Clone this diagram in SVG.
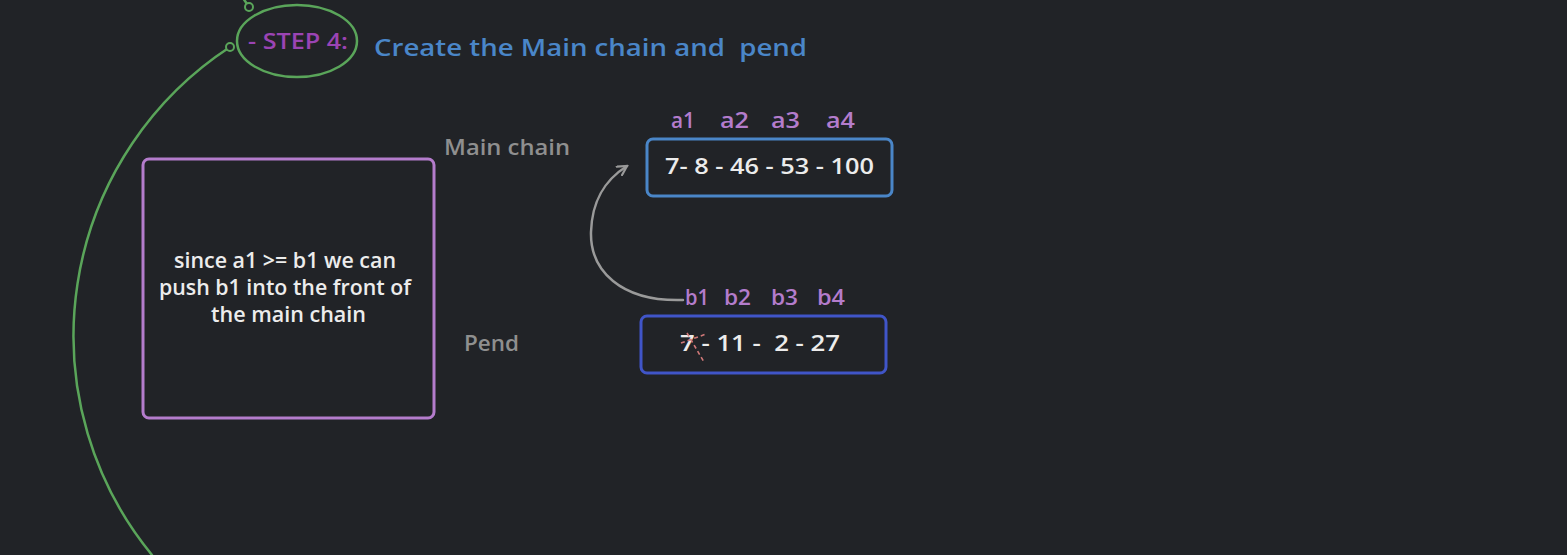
<svg xmlns="http://www.w3.org/2000/svg" width="1567" height="555" viewBox="0 0 1567 555">
<defs>
<style>
text{font-family:"Open Sans","Noto Sans",sans-serif;font-weight:600;white-space:pre}
.white{fill:#ececec;font-size:21px}
.idx{fill:#b47ccc;font-size:22px}
.lbl{fill:#8f8f8f;font-size:22px}
</style>
<marker id="ah" viewBox="0 0 12 12" refX="10" refY="6" markerWidth="12" markerHeight="12" markerUnits="userSpaceOnUse" orient="auto">
<path d="M1 1 L10 6 L1 11" fill="none" stroke="#9a9a9a" stroke-width="2.2" stroke-linecap="round"/>
</marker>
</defs>
<rect width="1567" height="555" fill="#212327"/>
<g id="connectors" fill="none" stroke-linecap="round">
<path d="M230 47 A345 345 0 0 0 152 555" stroke="#5aa55a" stroke-width="2.5"/>
<path d="M249 7 L243 -2" stroke="#5aa55a" stroke-width="2.5"/>
<circle cx="249" cy="7" r="4" stroke="#5aa55a" stroke-width="2" fill="#212327"/>
<circle cx="230" cy="47" r="4" stroke="#5aa55a" stroke-width="2" fill="#212327"/>
<path d="M683 300 C620 302 590 270 591 232 C592 200 605 180 627 166" stroke="#9a9a9a" stroke-width="2.5" marker-end="url(#ah)"/>
</g>
<g id="step">
<ellipse cx="297" cy="41" rx="60" ry="36" fill="none" stroke="#5aa55a" stroke-width="2.5"/>
<text x="248" y="49" fill="#9b44b4" font-size="21" font-weight="500" textLength="100" lengthAdjust="spacingAndGlyphs">- STEP 4:</text>
</g>
<g id="title">
<text x="374" y="56" fill="#4a86c8" font-size="24" textLength="433" lengthAdjust="spacingAndGlyphs" xml:space="preserve">Create the Main chain and  pend</text>
</g>
<g id="main-label"><text class="lbl" x="444" y="155" textLength="126" lengthAdjust="spacingAndGlyphs">Main chain</text></g>
<g id="pend-label"><text class="lbl" x="464" y="351" textLength="55" lengthAdjust="spacingAndGlyphs">Pend</text></g>
<g id="a-labels">
<text class="idx" x="671" y="128" textLength="24" lengthAdjust="spacingAndGlyphs">a1</text>
<text class="idx" x="720" y="128" textLength="29" lengthAdjust="spacingAndGlyphs">a2</text>
<text class="idx" x="771" y="128" textLength="29" lengthAdjust="spacingAndGlyphs">a3</text>
<text class="idx" x="826" y="128" textLength="29" lengthAdjust="spacingAndGlyphs">a4</text>
</g>
<g id="main-chain">
<rect x="647" y="139" width="245" height="57" rx="6" fill="none" stroke="#4a86c8" stroke-width="3"/>
<text class="white" x="665" y="174" textLength="209" lengthAdjust="spacingAndGlyphs">7- 8 - 46 - 53 - 100</text>
</g>
<g id="b-labels">
<text class="idx" x="685" y="305" textLength="24" lengthAdjust="spacingAndGlyphs">b1</text>
<text class="idx" x="724" y="305" textLength="27" lengthAdjust="spacingAndGlyphs">b2</text>
<text class="idx" x="771" y="305" textLength="27" lengthAdjust="spacingAndGlyphs">b3</text>
<text class="idx" x="817" y="305" textLength="28" lengthAdjust="spacingAndGlyphs">b4</text>
</g>
<g id="pend">
<rect x="641" y="316" width="245" height="57" rx="6" fill="none" stroke="#4055c8" stroke-width="3"/>
<text class="white" x="680" y="351" textLength="160" lengthAdjust="spacingAndGlyphs" xml:space="preserve">7 - 11 -  2 - 27</text>
<g stroke="#d07878" stroke-width="1.6" stroke-dasharray="4 3" fill="none">
<path d="M681 343 L706 334"/>
<path d="M687 333 L704 362"/>
</g>
</g>
<g id="note">
<rect x="143" y="159" width="291" height="259" rx="6" fill="none" stroke="#b47ccc" stroke-width="3"/>
<text class="white" x="174" y="268" textLength="222" lengthAdjust="spacingAndGlyphs">since a1 &gt;= b1 we can</text>
<text class="white" x="159" y="295" textLength="252" lengthAdjust="spacingAndGlyphs">push b1 into the front of</text>
<text class="white" x="211" y="322" textLength="155" lengthAdjust="spacingAndGlyphs">the main chain</text>
</g>
</svg>
